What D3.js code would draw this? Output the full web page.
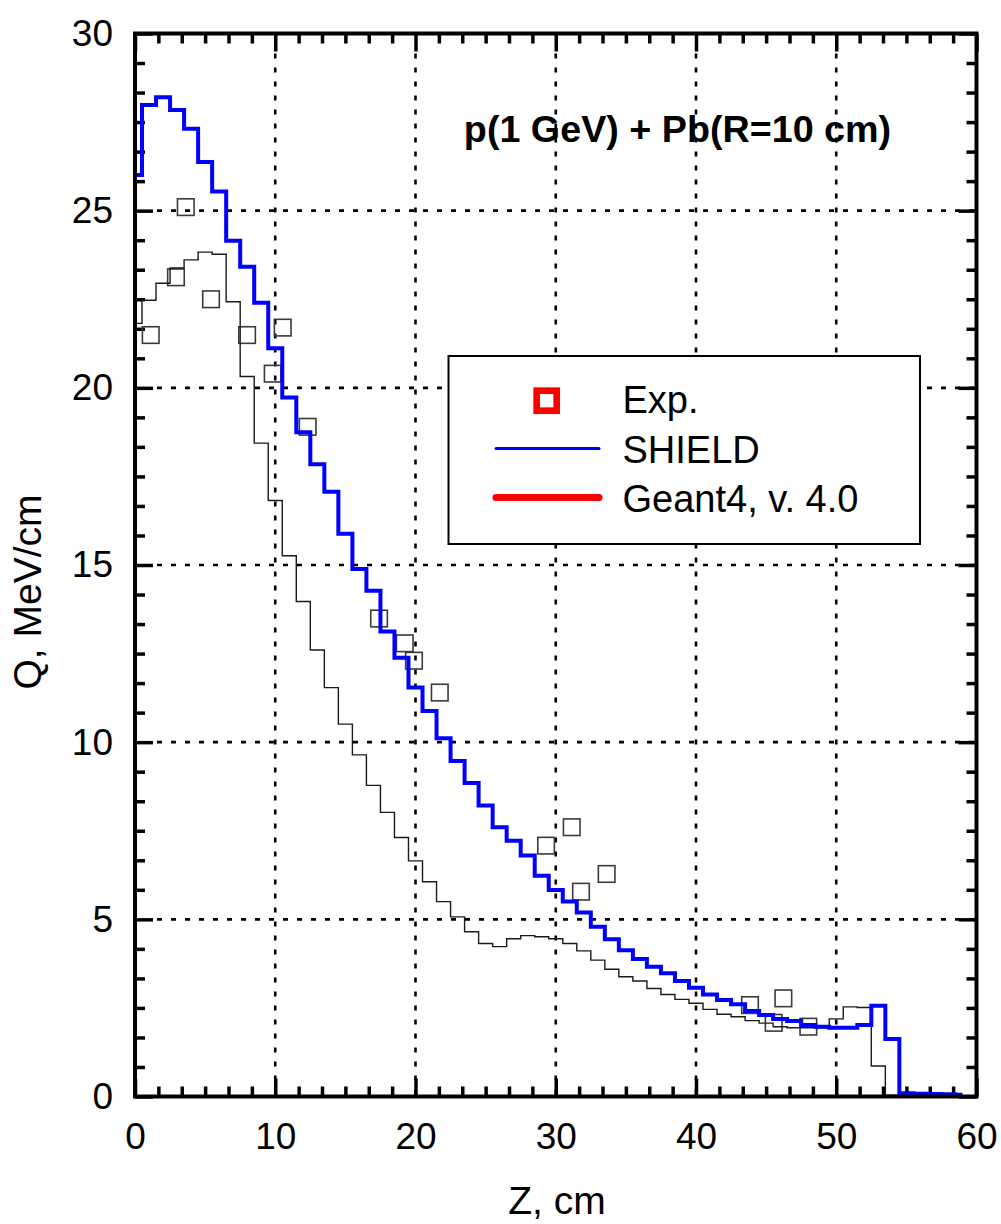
<!DOCTYPE html>
<html>
<head>
<meta charset="utf-8">
<script src="https://cdn.jsdelivr.net/npm/d3@7"></script>
<style>
  html, body { margin: 0; padding: 0; background: #fff; }
  svg { display: block; }
  text { font-family: "Liberation Sans", Arial, sans-serif; fill: #000; }
</style>
</head>
<body>
<svg id="chart" width="1001" height="1224"></svg>
<script>
// Z bin centres, cm
const zBins = [0,1,2,3,4,5,6,7,8,9,10,11,12,13,14,15,16,17,18,19,
  20,21,22,23,24,25,26,27,28,29,30,31,32,33,34,35,36,37,38,39,
  40,41,42,43,44,45,46,47,48,49,50,51,52,53,54,55,56,57,58,59];

// SHIELD energy deposition, MeV/cm
const shieldQ = [26.01,27.98,28.20,27.84,27.31,26.37,25.54,24.15,23.42,22.40,
  21.12,19.73,18.75,17.84,17.07,15.88,14.89,14.27,13.12,12.38,
  11.54,10.88,10.11,9.47,8.85,8.21,7.60,7.22,6.80,6.23,
  5.83,5.50,5.19,4.79,4.44,4.13,3.88,3.66,3.48,3.26,
  3.07,2.88,2.72,2.60,2.41,2.30,2.19,2.13,2.02,1.97,
  1.94,1.94,2.02,2.56,1.62,0.09,0.08,0.07,0.06,0.05];

// Geant4 energy deposition, MeV/cm
const geantQ = [21.82,22.47,22.95,23.38,23.61,23.83,23.77,22.43,20.32,18.44,
  16.82,15.26,13.97,12.60,11.54,10.51,9.64,8.78,8.02,7.31,
  6.65,6.06,5.50,5.07,4.65,4.32,4.23,4.45,4.54,4.51,
  4.45,4.32,4.11,3.85,3.59,3.38,3.26,3.05,2.88,2.74,
  2.63,2.46,2.32,2.25,2.14,2.07,1.97,1.94,1.94,1.94,
  2.19,2.53,2.51,0.86,0.04,0.04,0.04,0.04,0.04,0.04];

// Measured points
const expZ = [1.12,2.92,3.62,5.42,7.99,9.82,10.53,12.31,17.40,19.23,
  19.89,21.73,29.31,31.14,31.80,33.63,43.85,45.54,46.23,48.01];
const expQ = [21.49,23.12,25.10,22.50,21.49,20.40,21.70,18.90,13.49,12.79,
  12.30,11.40,7.08,7.60,5.78,6.28,2.58,2.08,2.77,1.97];

// Axis ticks
const xTicks = [0,10,20,30,40,50,60];
const yTicks = [0,5,10,15,20,25,30];

const legendLabels = ["Exp.", "SHIELD", "Geant4, v. 4.0"];
const title = "p(1 GeV) + Pb(R=10 cm)";

const svg = d3.select("#chart");
const L = 135, R = 976.5, T = 33.5, B = 1096.5;

const x = d3.scaleLinear().domain([0, 60]).range([L, R]);
const y = d3.scaleLinear().domain([0, 30]).range([B, T]);

svg.append("rect").attr("width", 1001).attr("height", 1224).attr("fill", "#fff");

// dotted grid at the major ticks
const grid = svg.append("g").attr("stroke", "#000").attr("stroke-width", 2.6)
  .attr("stroke-dasharray", "5,9");
grid.append("g").selectAll("line").data(xTicks.slice(1, -1)).join("line")
  .attr("x1", d => x(d)).attr("x2", d => x(d)).attr("y1", T + 20).attr("y2", B - 2);
grid.append("g").selectAll("line").data(yTicks.slice(1, -1)).join("line")
  .attr("y1", d => y(d)).attr("y2", d => y(d)).attr("x1", L + 22).attr("x2", R - 2);

// minor tick positions: six intervals per major step, inside the domain only
const xMinor = d3.range(0, 60.01, 10 / 6)
  .filter(v => v < 59.99 && Math.abs(v / 10 - Math.round(v / 10)) > 1e-6);
const yMinor = d3.range(0, 30.01, 5 / 6)
  .filter(v => v < 29.99 && Math.abs(v / 5 - Math.round(v / 5)) > 1e-6);

function styleAxis(g) {
  g.select(".domain").remove();
  g.selectAll(".tick line").attr("stroke", "#000").attr("stroke-width", 3.5);
  g.selectAll("text").attr("font-size", 37).attr("fill", "#000")
    .attr("font-family", '"Liberation Sans", Arial, sans-serif');
}

svg.append("g").attr("transform", `translate(0,${B})`)
  .call(d3.axisBottom(x).tickValues(xTicks).tickSize(-18).tickPadding(26).tickFormat(d3.format("d")))
  .call(styleAxis);
svg.append("g").attr("transform", `translate(0,${B})`)
  .call(d3.axisBottom(x).tickValues(xMinor).tickSize(-10).tickFormat(""))
  .call(styleAxis);
svg.append("g").attr("transform", `translate(0,${T})`)
  .call(d3.axisTop(x).tickValues(xTicks).tickSize(-18).tickFormat(""))
  .call(styleAxis);
svg.append("g").attr("transform", `translate(0,${T})`)
  .call(d3.axisTop(x).tickValues(xMinor).tickSize(-10).tickFormat(""))
  .call(styleAxis);
svg.append("g").attr("transform", `translate(${L},0)`)
  .call(d3.axisLeft(y).tickValues(yTicks).tickSize(-18).tickPadding(22).tickFormat(d3.format("d")))
  .call(styleAxis);
svg.append("g").attr("transform", `translate(${L},0)`)
  .call(d3.axisLeft(y).tickValues(yMinor).tickSize(-10).tickFormat(""))
  .call(styleAxis);
svg.append("g").attr("transform", `translate(${R},0)`)
  .call(d3.axisRight(y).tickValues(yTicks).tickSize(-18).tickFormat(""))
  .call(styleAxis);
svg.append("g").attr("transform", `translate(${R},0)`)
  .call(d3.axisRight(y).tickValues(yMinor).tickSize(-10).tickFormat(""))
  .call(styleAxis);

// measured points: open squares
svg.append("g").selectAll("rect").data(expZ.map((z, i) => [z, expQ[i]])).join("rect")
  .attr("x", d => x(d[0]) - 8.3).attr("y", d => y(d[1]) - 8.3)
  .attr("width", 16.6).attr("height", 16.6)
  .attr("fill", "none").attr("stroke", "#3a3a3a").attr("stroke-width", 1.6);

const step = d3.line().curve(d3.curveStep).x(d => x(d[0])).y(d => y(d[1]));

// Geant4 histogram
svg.append("path").datum(zBins.map((z, i) => [z, geantQ[i]]))
  .attr("d", step).attr("fill", "none").attr("stroke", "#1a1a1a").attr("stroke-width", 1.4);

// SHIELD histogram
svg.append("path").datum(zBins.map((z, i) => [z, shieldQ[i]]))
  .attr("d", step).attr("fill", "none").attr("stroke", "#0000ff").attr("stroke-width", 4)
  .attr("stroke-linejoin", "miter");

// frame
svg.append("rect").attr("x", L).attr("y", T).attr("width", R - L).attr("height", B - T)
  .attr("fill", "none").attr("stroke", "#000").attr("stroke-width", 4);

// title
svg.append("text").attr("x", 677.5).attr("y", 141.5).attr("text-anchor", "middle")
  .attr("font-size", 37.7).attr("font-weight", "bold").text(title);

// axis titles
svg.append("text").attr("x", 557).attr("y", 1214).attr("text-anchor", "middle")
  .attr("font-size", 39).text("Z, cm");
svg.append("text").attr("transform", "translate(41,592) rotate(-90)")
  .attr("text-anchor", "middle").attr("font-size", 39).text("Q, MeV/cm");

// legend
const lg = svg.append("g");
lg.append("rect").attr("x", 448.5).attr("y", 356).attr("width", 471.5).attr("height", 188)
  .attr("fill", "#fff").attr("stroke", "#000").attr("stroke-width", 2);
lg.append("rect").attr("x", 536.7).attr("y", 390.7).attr("width", 20).attr("height", 20)
  .attr("fill", "#fff").attr("stroke", "#ff0000").attr("stroke-width", 6.7);
lg.append("line").attr("x1", 496).attr("x2", 599).attr("y1", 448.5).attr("y2", 448.5)
  .attr("stroke", "#0000ff").attr("stroke-width", 3).attr("stroke-linecap", "round");
lg.append("line").attr("x1", 496).attr("x2", 599).attr("y1", 497.5).attr("y2", 497.5)
  .attr("stroke", "#ff0000").attr("stroke-width", 7).attr("stroke-linecap", "round");
lg.selectAll("text").data(legendLabels).join("text")
  .attr("x", 622.5).attr("y", (d, i) => 413.3 + i * 49.2)
  .attr("font-size", 38).text(d => d);
</script>
</body>
</html>
